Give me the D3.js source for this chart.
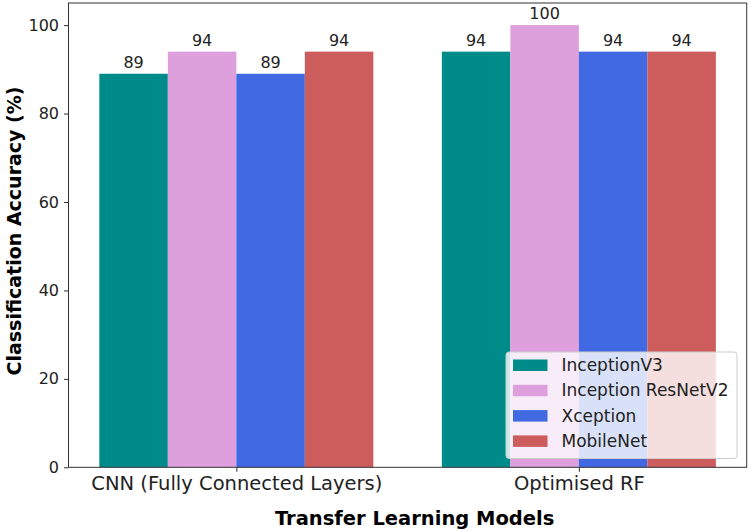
<!DOCTYPE html>
<html>
<head>
<meta charset="utf-8">
<script src="https://cdn.jsdelivr.net/npm/d3@7"></script>
<style>
  body { margin: 0; background: #fff; }
  text { font-family: "DejaVu Sans", sans-serif; }
</style>
</head>
<body>
<svg id="chart" width="750" height="531"></svg>
<script>
var groups = ["CNN (Fully Connected Layers)", "Optimised RF"];
var models = ["InceptionV3", "Inception ResNetV2", "Xception", "MobileNet"];
var farger = ["#008b8b", "#dda0dd", "#4169e1", "#cd5c5c"];
var inceptionV3 = [89, 94];
var inceptionResNetV2 = [94, 100];
var xception = [89, 94];
var mobileNet = [94, 94];
var serier = [inceptionV3, inceptionResNetV2, xception, mobileNet];
var yTicks = [0, 20, 40, 60, 80, 100];

var svg = d3.select("#chart");
var venstre = 68.5, hoyre = 746.7, topp = 3, bunn = 467.3;

var x = d3.scaleLinear().domain([-0.49, 1.49]).range([venstre, hoyre]);
var y = d3.scaleLinear().domain([0, 105]).range([bunn, topp]);
var barBredde = 0.2;

// Stolper
serier.forEach(function(verdier, i) {
    svg.selectAll(".bar" + i)
        .data(verdier)
        .enter()
        .append("rect")
        .attr("x", function(d, g) { return x(g - 0.4 + i * barBredde); })
        .attr("y", function(d) { return y(d); })
        .attr("width", x(barBredde) - x(0))
        .attr("height", function(d) { return y(0) - y(d); })
        .attr("fill", farger[i]);

    svg.selectAll(".lbl" + i)
        .data(verdier)
        .enter()
        .append("text")
        .attr("x", function(d, g) { return x(g - 0.4 + (i + 0.5) * barBredde); })
        .attr("y", function(d) { return y(d) - 6; })
        .attr("text-anchor", "middle")
        .style("font-size", "16px")
        .style("fill", "#222")
        .text(function(d) { return d; });
});

// Akser
var yAkse = d3.axisLeft(y).tickValues(yTicks).tickSize(4.5).tickPadding(5);
var gy = svg.append("g").attr("transform", "translate(" + venstre + ",0)").call(yAkse);
gy.select(".domain").remove();
gy.selectAll("text").style("font-size", "16px").style("font-family", "'DejaVu Sans'").style("fill", "#222");
gy.selectAll("line").attr("stroke", "#333");

var xAkse = d3.axisBottom(x).tickValues([0, 1]).tickFormat(function(d) { return groups[d]; }).tickSize(4.5).tickPadding(4);
var gx = svg.append("g").attr("transform", "translate(0," + bunn + ")").call(xAkse);
gx.select(".domain").remove();
gx.selectAll("text").style("font-size", "19.5px").style("font-family", "'DejaVu Sans'").style("fill", "#222");
gx.selectAll("line").attr("stroke", "#333");

// Ramme
svg.append("rect")
    .attr("x", venstre)
    .attr("y", topp)
    .attr("width", hoyre - venstre)
    .attr("height", bunn - topp)
    .attr("fill", "none")
    .attr("stroke", "#333")
    .attr("stroke-width", 1);

// Aksetitler
svg.append("text")
    .attr("x", (venstre + hoyre) / 2 + 7)
    .attr("y", 524.5)
    .attr("text-anchor", "middle")
    .style("font-size", "19.5px")
    .style("font-weight", "bold")
    .text("Transfer Learning Models");

svg.append("text")
    .attr("transform", "translate(21,231) rotate(-90)")
    .attr("text-anchor", "middle")
    .style("font-size", "19px")
    .style("font-weight", "bold")
    .text("Classification Accuracy (%)");

// Tegnforklaring
var leg = svg.append("g");
leg.append("rect")
    .attr("x", 506)
    .attr("y", 352)
    .attr("width", 231)
    .attr("height", 106.5)
    .attr("rx", 3)
    .attr("fill", "white")
    .attr("fill-opacity", 0.8)
    .attr("stroke", "#ccc")
    .attr("stroke-width", 1);

models.forEach(function(m, i) {
    var ry = 365 + i * 25.3;
    leg.append("rect")
        .attr("x", 513)
        .attr("y", ry - 5.5)
        .attr("width", 34.5)
        .attr("height", 11.5)
        .attr("fill", farger[i]);
    leg.append("text")
        .attr("x", 561.5)
        .attr("y", ry + 6)
        .style("font-size", "17px")
        .style("fill", "#222")
        .text(m);
});
</script>
</body>
</html>
